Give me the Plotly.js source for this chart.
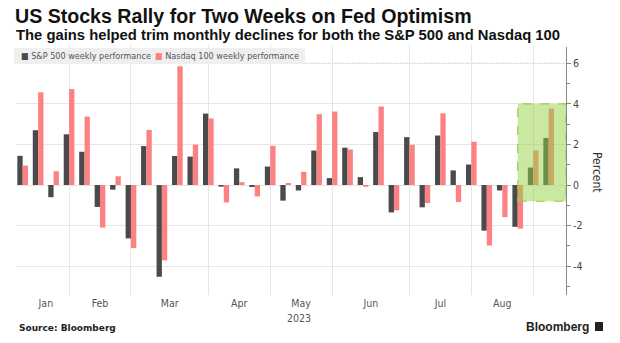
<!DOCTYPE html>
<html>
<head>
<meta charset="utf-8">
<script src="https://cdn.plot.ly/plotly-3.0.1.min.js"></script>
<style>
html,body{margin:0;padding:0;background:#fff;}
#chart{width:620px;height:343px;}
</style>
</head>
<body>
<div id="chart"></div>
<script>
// Week-ending dates (2023)
const weeks = ['Jan 6','Jan 13','Jan 20','Jan 27','Feb 3','Feb 10','Feb 17','Feb 24',
  'Mar 3','Mar 10','Mar 17','Mar 24','Mar 31','Apr 6','Apr 14','Apr 21','Apr 28',
  'May 5','May 12','May 19','May 26','Jun 2','Jun 9','Jun 16','Jun 23','Jun 30',
  'Jul 7','Jul 14','Jul 21','Jul 28','Aug 4','Aug 11','Aug 18','Aug 25','Sep 1'];
const spx = [1.44, 2.70, -0.60, 2.50, 1.64, -1.08, -0.23, -2.63, 1.92, -4.52, 1.43, 1.40, 3.52,
  -0.08, 0.82, -0.10, 0.91, -0.77, -0.27, 1.70, 0.34, 1.84, 0.39, 2.61, -1.35, 2.36,
  -1.10, 2.44, 0.72, 1.01, -2.25, -0.27, -2.06, 0.86, 2.32];
const ndx = [0.96, 4.57, 0.68, 4.73, 3.37, -2.10, 0.43, -3.11, 2.71, -3.71, 5.85, 1.99, 3.28,
  -0.86, 0.14, -0.56, 1.93, 0.10, 0.65, 3.49, 3.62, 1.75, -0.09, 3.87, -1.25, 1.98,
  -0.89, 3.53, -0.84, 2.13, -2.98, -1.58, -2.15, 1.71, 3.77];
const monthLabels = ['Jan','Feb','Mar','Apr','May','Jun','Jul','Aug'];
const yTickVals = [-4, -2, 0, 2, 4, 6];
const yTickText = ['-4', '-2', '0', '2', '4', '6'];
const highlightWeeks = ['Aug 18', 'Sep 1'];
const highlightRange = [-0.8, 4];

// derive month structure from week labels
const idx = weeks.map((w, i) => i);
const monthOf = weeks.map(w => w.split(' ')[0]);
const lastOfMonth = [];   // gridline at last week of each month
for (let i = 0; i < weeks.length - 1; i++) {
  if (monthOf[i] !== monthOf[i + 1]) lastOfMonth.push(i);
}
const monthCenters = [];
let prev = 0;
lastOfMonth.forEach(b => { monthCenters.push((prev + b) / 2); prev = b; });

// pixel helpers for layout (plot area: x 16..566, y 45..295)
const W = 620, H = 343, L = 16, R = 566, T = 45, B = 295;
const px = x => (x - L) / (R - L);
const py = y => (B - y) / (B - T);
const xMin = -0.43, xMax = 35.12;

const dark = '#4a4a4a', pink = '#fc8282';

const traces = [
  {type: 'bar', x: idx, y: spx, name: 'S&P 500 weekly performance',
   marker: {color: dark}, hoverinfo: 'skip'},
  {type: 'bar', x: idx, y: ndx, name: 'Nasdaq 100 weekly performance',
   marker: {color: pink}, hoverinfo: 'skip'}
];

const layout = {
  width: W, height: H,
  margin: {l: L, r: W - R, t: T, b: H - B, pad: 0},
  paper_bgcolor: '#fff', plot_bgcolor: '#fff',
  showlegend: false,
  barmode: 'group', bargap: 0.31, bargroupgap: 0,
  font: {family: 'DejaVu Sans Condensed, DejaVu Sans, sans-serif', color: '#444', size: 10},
  title: {
    text: 'US Stocks Rally for Two Weeks on Fed Optimism',
    font: {family: 'Liberation Sans, Arial, sans-serif', size: 19.6, color: '#111', weight: 'bold'},
    x: 15 / W, xanchor: 'left', xref: 'container',
    y: 1 - 16.5 / H, yanchor: 'middle', yref: 'container', pad: {t: 0, b: 0, l: 0, r: 0}
  },
  xaxis: {
    range: [xMin, xMax], fixedrange: true,
    tickmode: 'array', tickvals: monthCenters, ticktext: monthLabels,
    ticks: '', showgrid: false, zeroline: false, showline: false,
    tickfont: {size: 10.5, color: '#555'},
    minor: {tickmode: 'array', tickvals: lastOfMonth, showgrid: true, gridcolor: '#e6e6e6', gridwidth: 1, ticks: ''}
  },
  yaxis: {
    side: 'right', range: [-5.42, 6.9], fixedrange: true,
    tickmode: 'array', tickvals: yTickVals, ticktext: yTickText,
    ticks: 'outside', ticklen: 4, tickcolor: '#888', tickwidth: 1,
    showline: true, linecolor: '#888', linewidth: 1,
    showgrid: true, gridcolor: '#e6e6e6', gridwidth: 1, zeroline: false,
    tickfont: {size: 10.5, color: '#444'},
    minor: {tickmode: 'array', tickvals: [-5, -3, -1, 1, 3, 5], ticks: 'outside', ticklen: 3, tickcolor: '#888', showgrid: false}
  },
  shapes: [
    {type: 'line', xref: 'paper', yref: 'y', x0: 0, x1: 1, y0: 6, y1: 6,
     line: {color: '#c8c8c8', width: 1, dash: 'dot'}, layer: 'below'},
    {type: 'rect', xref: 'paper', yref: 'paper', x0: 0.995, x1: 1.01, y0: py(47), y1: 1.02,
     fillcolor: '#fff', line: {width: 0}, layer: 'above'},
    {type: 'rect', xref: 'paper', yref: 'paper', x0: px(14), x1: px(305), y0: py(64), y1: py(48),
     fillcolor: '#efefef', line: {width: 0}, layer: 'above'},
    {type: 'rect', xref: 'x', yref: 'y',
     x0: weeks.indexOf(highlightWeeks[0]), x1: xMax,
     y0: highlightRange[0], y1: highlightRange[1],
     fillcolor: 'rgba(150,210,70,0.5)', line: {color: '#9ccc4a', width: 1.2, dash: 'dash'}, layer: 'above'},
    {type: 'rect', xref: 'paper', yref: 'paper', x0: px(595), x1: px(603), y0: py(331), y1: py(322),
     fillcolor: '#222', line: {width: 0}, layer: 'above'}
  ],
  annotations: [
    {text: '<b>The gains helped trim monthly declines for both the S&P 500 and Nasdaq 100</b>',
     xref: 'paper', yref: 'paper', x: px(14), y: py(35.5), xanchor: 'left', yanchor: 'middle',
     showarrow: false, font: {family: 'Liberation Sans, Arial, sans-serif', size: 14.8, color: '#111'}},
    {text: '<span style="color:' + dark + '">■</span> S&P 500 weekly performance',
     xref: 'paper', yref: 'paper', x: px(19), y: py(56), xanchor: 'left', yanchor: 'middle',
     showarrow: false, font: {size: 9, color: '#555'}},
    {text: '<span style="color:' + pink + '">■</span> Nasdaq 100 weekly performance',
     xref: 'paper', yref: 'paper', x: px(153), y: py(56), xanchor: 'left', yanchor: 'middle',
     showarrow: false, font: {size: 9, color: '#555'}},
    {text: 'Percent', xref: 'paper', yref: 'paper', x: px(597), y: py(172),
     xanchor: 'center', yanchor: 'middle', textangle: 90, showarrow: false,
     font: {size: 12, color: '#333'}},
    {text: '2023', xref: 'paper', yref: 'paper', x: px(299), y: py(318),
     xanchor: 'center', yanchor: 'middle', showarrow: false, font: {size: 10.5, color: '#555'}},
    {text: '<b>Source: Bloomberg</b>', xref: 'paper', yref: 'paper', x: px(17), y: py(328),
     xanchor: 'left', yanchor: 'middle', showarrow: false,
     font: {family: 'DejaVu Sans, sans-serif', size: 9, color: '#222'}},
    {text: '<b>Bloomberg</b>', xref: 'paper', yref: 'paper', x: px(591), y: py(326.5),
     xanchor: 'right', yanchor: 'middle', showarrow: false,
     font: {family: 'Liberation Sans, Arial, sans-serif', size: 12, color: '#222'}}
  ]
};

Plotly.newPlot('chart', traces, layout, {staticPlot: true, displayModeBar: false});
</script>
</body>
</html>
